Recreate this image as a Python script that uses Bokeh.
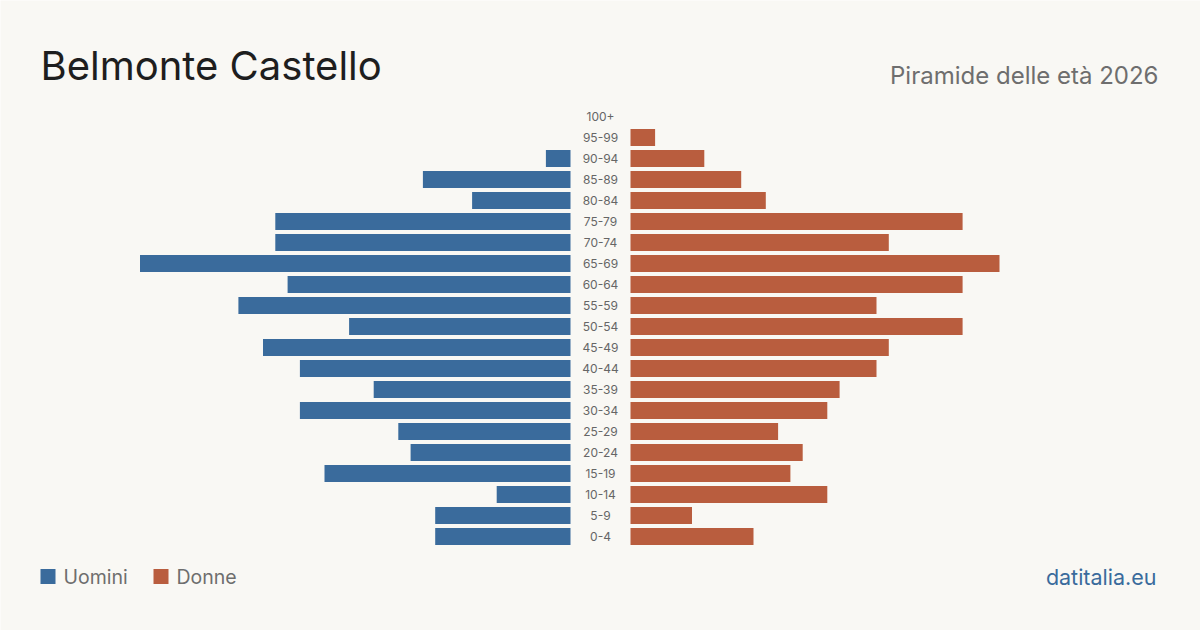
from bokeh.plotting import figure
from bokeh.models import Range1d, Label, ColumnDataSource
from bokeh.core.properties import value
from bokeh.embed import file_html
from bokeh.resources import INLINE

# Age classes, from youngest to oldest
age_groups = ["0-4", "5-9", "10-14", "15-19", "20-24", "25-29", "30-34", "35-39",
              "40-44", "45-49", "50-54", "55-59", "60-64", "65-69", "70-74",
              "75-79", "80-84", "85-89", "90-94", "95-99", "100+"]
men = [11, 11, 6, 20, 13, 14, 22, 16, 22, 25, 18, 27, 23, 35, 24, 24, 8, 12, 2, 0, 0]
women = [10, 5, 16, 13, 14, 12, 16, 17, 20, 21, 27, 20, 27, 30, 21, 27, 11, 9, 6, 2, 0]

BG = "#f9f8f4"
MEN_COLOR = "#3a6b9c"
WOMEN_COLOR = "#b95d3e"
FONT = "Inter"

W, H = 1200, 630
UNIT = 12.3          # pixels per person
HALF_GAP = 30 / UNIT # half width of the label column, in persons
ROW = 21             # pixels per age class
ZERO_Y = 536         # pixel row of the first class

rows = list(range(len(age_groups)))
src = ColumnDataSource(dict(
    y=rows,
    label=age_groups,
    m_left=[-HALF_GAP - v for v in men],
    m_right=[-HALF_GAP] * len(men),
    f_left=[HALF_GAP] * len(women),
    f_right=[HALF_GAP + v for v in women],
))

p = figure(width=W, height=H, output_backend="svg", toolbar_location=None,
           x_range=Range1d(-(W / 2) / UNIT, (W / 2) / UNIT),
           y_range=Range1d((ZERO_Y - H) / ROW, ZERO_Y / ROW),
           min_border=0, border_fill_color=BG, background_fill_color=BG,
           outline_line_color=None)
p.axis.visible = False
p.grid.visible = False

bh = 17 / ROW
p.hbar(y="y", left="m_left", right="m_right", height=bh, source=src,
       fill_color=MEN_COLOR, line_color=None)
p.hbar(y="y", left="f_left", right="f_right", height=bh, source=src,
       fill_color=WOMEN_COLOR, line_color=None)

p.text(x=0, y="y", text="label", source=src, text_align="center",
       text_baseline="middle", text_font=value(FONT), text_font_size="12px",
       text_color="#666666")

# Header
p.add_layout(Label(x=40, y=H - 65, x_units="screen", y_units="screen",
                   text="Belmonte Castello", text_font=FONT,
                   text_font_size="40px", text_color="#1e1e1e",
                   text_baseline="alphabetic"))
p.add_layout(Label(x=1158, y=H - 75, x_units="screen", y_units="screen",
                   text="Piramide delle età 2026", text_font=FONT,
                   text_font_size="24px", text_color="#6e6e6e",
                   text_align="right", text_baseline="alphabetic"))

# Legend
for sx, txt, col in [(40, "Uomini", MEN_COLOR), (153, "Donne", WOMEN_COLOR)]:
    p.scatter(x=[(sx + 7.5 - W / 2) / UNIT], y=[(ZERO_Y - 576) / ROW],
              marker="square", size=15, fill_color=col, line_color=None)
    p.add_layout(Label(x=sx + 23, y=H - 576, x_units="screen", y_units="screen",
                       text=txt, text_font=FONT, text_font_size="19.5px",
                       text_color="#6e6e6e", text_baseline="middle"))

p.add_layout(Label(x=1156, y=H - 576, x_units="screen", y_units="screen",
                   text="datitalia.eu", text_font=FONT, text_font_size="21.5px",
                   text_color="#3a6b9c", text_align="right",
                   text_baseline="middle"))

open("out.html", "w").write(file_html(p, INLINE))
